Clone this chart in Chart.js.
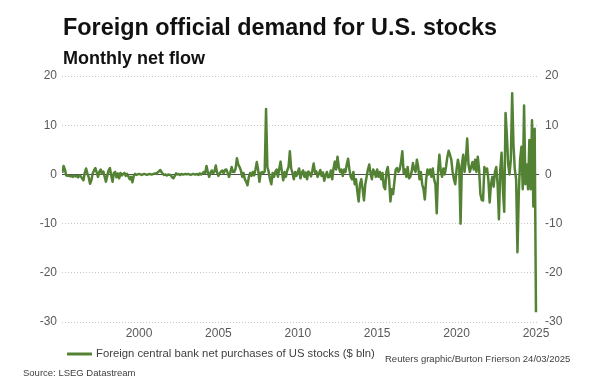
<!DOCTYPE html>
<html lang="en">
<head>
<meta charset="UTF-8">
<title>Foreign official demand for U.S. stocks</title>
<style>
  body { margin: 0; background: #fff; }
  canvas { display: block; }
</style>
</head>
<body>
<canvas id="flowChart" width="595" height="386"></canvas>
<script src="https://cdn.jsdelivr.net/npm/chart.js@4"></script>
<script>
// monthly net flow, $ bln, first value is March 1995
const startYear = 1995;
const startMonth = 3;

const flows1995to1999 = [
  0.3, 1.7, 1.0, -0.2, -0.3, -0.2, -0.4, -0.3, -0.5, -0.2,
  -0.4, -0.3, -0.6, -0.2, -0.4, -0.8, -1.2, 0.3, 1.2, 0.2, -0.6, -1.9,
  -1.2, 0.2, 0.8, 1.3, 0.4, -0.5, 0.5, 1.0, 0.2, 0.6, -0.4, -1.5,
  -0.3, 0.8, 1.3, -0.2, -1.5, 0.3, 0.5, -0.6, 0.2, -0.8, 0.3, -0.2,
  0.1, 0.3, -0.3, 0.1, -0.4, -1.0, -0.5, -1.6, -0.3, 0.1, -0.1, 0.0
];
const flows2000to2004 = [
  0.1, 0.0, -0.1, 0.0, 0.1, 0.0, -0.1, 0.0, 0.1, 0.0, 0.0, 0.1,
  0.2, 0.1, 0.4, 0.6, 0.9, 0.5, 0.1, -0.1, 0.0, -0.2, 0.0, -0.1,
  -0.1, -0.6, -0.8, -0.3, 0.2, 0.0, 0.1, -0.1, 0.1, 0.0, 0.0, 0.1,
  0.0, 0.1, 0.0, -0.1, 0.0, 0.1, 0.0, 0.0, 0.1, -0.1, 0.2, 0.0,
  0.2, 0.5, 0.3, 1.7, 0.5, -0.5, 0.3, 0.8, 0.2, 0.6, 1.8, 0.4
];
const flows2005to2009 = [
  -0.3, 0.2, 0.6, 0.8, 0.2, 0.9, 1.0, 0.3, -0.5, 0.4, 1.5, 0.5,
  0.5, 1.2, 3.3, 2.0, 1.5, 0.8, -0.5, 0.3, -1.0, -1.5, -2.2, -0.5,
  0.3, -0.3, 0.5, -0.2, 1.0, 2.5, 1.0, -1.5, 0.3, 0.5, 0.3, 0.6,
  13.3, 1.5, 0.5, -1.0, -2.0, 0.3, -0.5, 0.5, 1.0, -0.5, 1.2, 2.6,
  0.5, -1.2, 0.5, -0.5, 0.8, 1.5, 4.7, 1.2, 0.3, -1.0, 0.5, -0.3
];
const flows2010to2014 = [
  0.5, 1.2, -0.8, 0.3, 0.8, -0.5, 0.4, -1.0, 0.6, 0.2, -0.4, 0.8,
  2.2, 0.3, 0.6, -0.5, 0.2, 0.9, -0.3, 0.4, -1.3, -0.2, 0.5, -0.6,
  -0.5, 0.8, -1.0, 1.2, 2.6, 1.0, 3.6, 1.5, 0.5, 1.0, -0.3, 1.0,
  0.5, 2.0, 3.2, 1.0, -0.5, -1.0, 0.5, -2.0, -1.0, -3.5, -5.5, -2.0,
  -1.0, -3.0, -5.3, -2.0, -0.5, 1.0, 2.0, 0.2, -1.0, 1.0, 0.5, -0.5
];
const flows2015to2019 = [
  1.0, -0.5, 0.5, -1.0, 0.3, -2.5, -3.0, 0.5, 1.5, -1.0, -5.5, -3.0,
  -4.0, -1.5, 1.0, 1.3, 0.5, 1.0, 2.5, 4.7, 0.3, 1.0, -0.5, 1.5,
  -0.8, -0.5, 0.5, 2.3, 1.0, 0.5, 3.0, 1.5, -1.0, 0.5, -2.0, -3.0,
  -5.1, -1.0, 1.0, 0.0, 1.0, -0.5, 1.2, -1.0, -2.0, -7.9, 0.5, 4.0,
  0.8, -0.5, 1.2, 0.0, 1.5, 3.5, 4.8, 4.0, 3.0, 0.5, -1.0, -2.0
];
const flows2020to2025 = [
  1.0, 3.0, 1.5, -10.0, 2.0, 4.0, 0.5, 3.0, 7.3, 2.0, 0.5, 1.5,
  2.5, 1.0, 3.0, 0.5, 3.6, 1.0, -4.0, -5.2, -5.3, 1.5, 0.5, 1.2,
  -1.0, -5.7, -2.0, -0.5, -2.5, 0.5, 1.5, -2.0, -9.1, 1.0, 4.4, -3.0,
  -7.6, 12.5, 8.0, 2.0, 0.0, 3.0, 16.5, 6.0, 1.0, -1.0, -15.8, -4.0,
  3.0, 5.6, -3.0, 14.0, -2.0, 2.0, -3.0, 7.0, -3.0, 11.0, -6.5, 9.3,
  -28.0
];

const yTicks = [20, 10, 0, -10, -20, -30];
const xTickYears = [2000, 2005, 2010, 2015, 2020, 2025];

const titleText = 'Foreign official demand for U.S. stocks';
const subtitleText = 'Monthly net flow';
const seriesLabel = 'Foreign central bank net purchases of US stocks ($ bln)';
const creditText = 'Reuters graphic/Burton Frierson 24/03/2025';
const sourceText = 'Source: LSEG Datastream';

const FONT = "'Liberation Sans', Arial, sans-serif";
const GREEN = '#548235';

const monthly = [].concat(flows1995to1999, flows2000to2004, flows2005to2009,
  flows2010to2014, flows2015to2019, flows2020to2025);
const points = monthly.map((v, i) => ({ x: startYear + (startMonth - 1 + i) / 12, y: v }));

// titles, legend and footer text
const textPlugin = {
  id: 'textPlugin',
  afterDraw(chart) {
    const c = chart.ctx;
    c.save();
    c.fillStyle = '#111';
    c.textBaseline = 'alphabetic';
    c.font = 'bold 23.4px ' + FONT;
    c.fillText(titleText, 63, 35);
    c.font = 'bold 18px ' + FONT;
    c.fillText(subtitleText, 63, 64);

    const ds = chart.data.datasets[0];
    c.strokeStyle = ds.borderColor;
    c.lineWidth = 3;
    c.beginPath();
    c.moveTo(67, 354);
    c.lineTo(92, 354);
    c.stroke();

    c.fillStyle = '#404040';
    c.textBaseline = 'middle';
    c.font = '11.3px ' + FONT;
    c.fillText(ds.label, 96, 354);
    c.font = '9.5px ' + FONT;
    c.fillText(creditText, 385, 359);
    c.fillText(sourceText, 23, 373);
    c.restore();
  }
};

const tickFont = { family: FONT, size: 12 };
const setYTicks = s => { s.ticks = yTicks.map(v => ({ value: v })); };

new Chart(document.getElementById('flowChart'), {
  type: 'line',
  data: {
    datasets: [{
      label: seriesLabel,
      data: points,
      borderColor: GREEN,
      borderWidth: 2.5,
      borderJoinStyle: 'round',
      pointRadius: 0,
      tension: 0,
      fill: false
    }]
  },
  options: {
    responsive: false,
    animation: false,
    devicePixelRatio: 1,
    layout: { padding: { top: 76, left: 0, right: 0, bottom: 0 } },
    plugins: {
      legend: { display: false },
      tooltip: { enabled: false }
    },
    scales: {
      x: {
        type: 'linear',
        min: 1995.15,
        max: 2025.19,
        afterBuildTicks: s => { s.ticks = xTickYears.map(v => ({ value: v })); },
        afterFit: s => { s.height = 64; },
        grid: { display: false, drawTicks: false },
        border: { display: false },
        ticks: {
          padding: 4,
          color: '#595959',
          font: tickFont,
          autoSkip: false,
          maxRotation: 0,
          callback: v => String(v)
        }
      },
      y: {
        position: 'left',
        min: -30,
        max: 20,
        afterBuildTicks: setYTicks,
        afterFit: s => { s.width = 62; },
        grid: {
          drawTicks: false,
          lineWidth: 1,
          color: ctx => (ctx.tick && ctx.tick.value === 0) ? '#4d4d4d' : '#c8c8c8'
        },
        border: {
          display: false,
          dash: ctx => (ctx.tick && ctx.tick.value === 0) ? [] : [1, 2]
        },
        ticks: { padding: 5, color: '#595959', font: tickFont, callback: v => String(v) }
      },
      y2: {
        position: 'right',
        min: -30,
        max: 20,
        afterBuildTicks: setYTicks,
        afterFit: s => { s.width = 56; },
        grid: { display: false, drawTicks: false },
        border: { display: false },
        ticks: { padding: 6, color: '#595959', font: tickFont, callback: v => String(v) }
      }
    }
  },
  plugins: [textPlugin]
});
</script>
</body>
</html>
